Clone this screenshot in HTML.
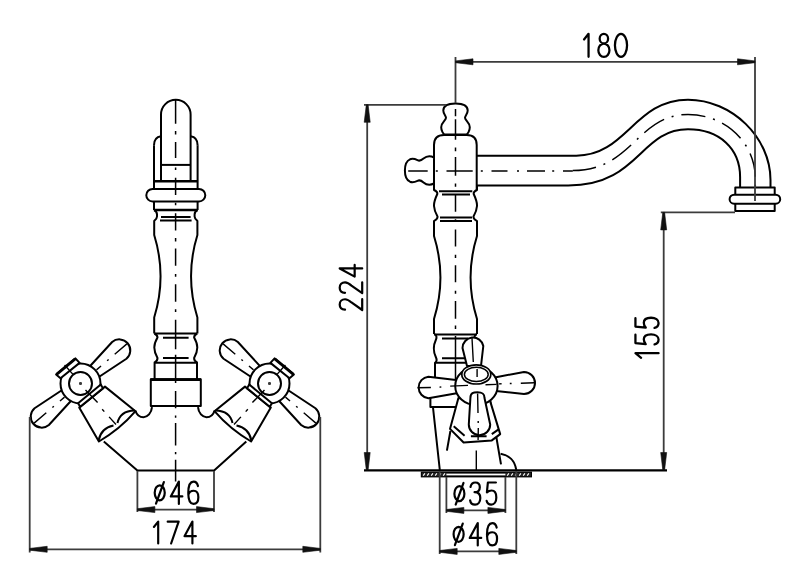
<!DOCTYPE html>
<html><head><meta charset="utf-8"><style>
html,body{margin:0;padding:0;background:#fff;width:800px;height:574px;overflow:hidden}
svg{display:block}
.l{fill:none;stroke:#000;stroke-width:2;stroke-linejoin:round}
.o{fill:#fff;stroke:#000;stroke-width:2;stroke-linejoin:round}
.t{fill:none;stroke:#3c3c3c;stroke-width:1.8}
.c{fill:none;stroke:#000;stroke-width:1.4;stroke-dasharray:22 5 2 5}
.ar{fill:#111;stroke:#111;stroke-width:0.6;stroke-linejoin:round}
.gl{fill:none;stroke:#000;stroke-width:2.2;stroke-linecap:round;stroke-linejoin:round}
.tx{font-family:"Liberation Sans",sans-serif;font-size:35.5px;fill:#000}
</style></head><body>
<svg width="800" height="574" viewBox="0 0 800 574">
<rect width="800" height="574" fill="#fff"/>
<g>
<path class="l" d="M154,145.2 V210"/>
<path class="l" d="M161,136.3 C156.5,137 154,140 154,145.2"/>
<path class="l" d="M154,210 C156.3,211 157,212.5 157,214.5 V216.5 C157,218.5 155.5,219.8 154.2,221 V235 A140,140 0 0 1 154.2,317.5 V333.5"/>
<path class="l" d="M154.4,333.5 C156.5,334.5 157.5,335.5 157.5,337.5 C155.5,341 154.3,344 154.3,347.5 C154.3,351 155.5,354.5 157.5,358 C157.5,360 156.5,361.5 154.6,362.5 V379.3"/>
</g>
<g transform="translate(351.6,0) scale(-1,1)">
<path class="l" d="M154,145.2 V210"/>
<path class="l" d="M161,136.3 C156.5,137 154,140 154,145.2"/>
<path class="l" d="M154,210 C156.3,211 157,212.5 157,214.5 V216.5 C157,218.5 155.5,219.8 154.2,221 V235 A140,140 0 0 1 154.2,317.5 V333.5"/>
<path class="l" d="M154.4,333.5 C156.5,334.5 157.5,335.5 157.5,337.5 C155.5,341 154.3,344 154.3,347.5 C154.3,351 155.5,354.5 157.5,358 C157.5,360 156.5,361.5 154.6,362.5 V379.3"/>
</g>

<path class="l" d="M161,181 V114.6 A14.8,14.8 0 0 1 190.6,114.6 V181"/>
<path class="l" d="M161,164.9 H190.6"/>
<path class="l" style="stroke-width:2.6" d="M154,181.3 H197.6"/>
<rect class="o" x="146.3" y="188.9" width="59" height="12.6" rx="6.3"/>
<path class="l" style="stroke-width:2.6" d="M154,210 H197.6"/>
<path class="l" d="M161,217.1 H190.6 M160,220.4 H191.6"/>
<path class="l" d="M154.4,333.5 H197.2"/>
<path class="l" d="M163,337.8 H188.6 M163,357.9 H188.6"/>
<path class="l" d="M155,362.8 H196.6"/>
<rect class="o" x="150.8" y="379.3" width="50" height="26.7"/>
<path class="l" style="stroke-width:2.6" d="M150.6,379.6 H201"/>

<g><g transform="translate(80.5,383.5) rotate(-40.5)"><path class="o" d="M15,-6.6 L51,-11 A11,11 0 0 1 51,11 L15,6.6 Z"/><path class="l" style="stroke-width:1.4" d="M45,0 H61 M35,0 H37 M21,0 H27"/></g><g transform="translate(80.5,383.5) rotate(139.5)"><path class="o" d="M15,-6.6 L51,-11 A11,11 0 0 1 51,11 L15,6.6 Z"/><path class="l" style="stroke-width:1.4" d="M45,0 H61 M35,0 H37 M21,0 H27"/></g><circle class="o" cx="80.5" cy="383.5" r="20"/><circle class="o" cx="80.5" cy="383.5" r="11.5"/><path class="t" d="M79.0,383.5 h3 M80.5,382.0 v3"/><path class="o" d="M56.1,374.5 L75.4,358.4 L79.6,362.9 L60.5,378.2 Z"/><path class="l" style="stroke-width:2.8" d="M56.6,374.3 L75.2,358.8"/><path class="o" d="M79.2,407.6 L98.9,441.5 Q119.8,429.4 135.5,411.2 L105,386.6 Z"/><path class="o" d="M78.1,403.3 L100.8,384.5 L102.9,388.4 L80.2,406.8 Z"/><path class="l" d="M98.6,440.5 Q101,428 113.5,425.5 M117.5,423 Q120,411 134.5,410.5"/><path class="l" style="stroke-width:1.4" d="M64.6,365 L73,374.4 M85.5,390.1 L97.6,402.6 M102.2,409.3 L104.3,411.6 M109.1,416.9 L116,424.5"/><path class="l" d="M135.5,410.7 C137,416 140,417.2 143.5,417.2 C147.5,417.2 151.5,413 152,407.2"/></g>
<g transform="translate(350.0,0) scale(-1,1)"><g transform="translate(80.5,383.5) rotate(-40.5)"><path class="o" d="M15,-6.6 L51,-11 A11,11 0 0 1 51,11 L15,6.6 Z"/><path class="l" style="stroke-width:1.4" d="M45,0 H61 M35,0 H37 M21,0 H27"/></g><g transform="translate(80.5,383.5) rotate(139.5)"><path class="o" d="M15,-6.6 L51,-11 A11,11 0 0 1 51,11 L15,6.6 Z"/><path class="l" style="stroke-width:1.4" d="M45,0 H61 M35,0 H37 M21,0 H27"/></g><circle class="o" cx="80.5" cy="383.5" r="20"/><circle class="o" cx="80.5" cy="383.5" r="11.5"/><path class="t" d="M79.0,383.5 h3 M80.5,382.0 v3"/><path class="o" d="M56.1,374.5 L75.4,358.4 L79.6,362.9 L60.5,378.2 Z"/><path class="l" style="stroke-width:2.8" d="M56.6,374.3 L75.2,358.8"/><path class="o" d="M79.2,407.6 L98.9,441.5 Q119.8,429.4 135.5,411.2 L105,386.6 Z"/><path class="o" d="M78.1,403.3 L100.8,384.5 L102.9,388.4 L80.2,406.8 Z"/><path class="l" d="M98.6,440.5 Q101,428 113.5,425.5 M117.5,423 Q120,411 134.5,410.5"/><path class="l" style="stroke-width:1.4" d="M64.6,365 L73,374.4 M85.5,390.1 L97.6,402.6 M102.2,409.3 L104.3,411.6 M109.1,416.9 L116,424.5"/><path class="l" d="M135.5,410.7 C137,416 140,417.2 143.5,417.2 C147.5,417.2 151.5,413 152,407.2"/></g>
<path class="l" d="M103.8,441.6 L137.4,470.4 H214.1 L246.3,441.6"/>
<path class="l" style="stroke-width:1.5" d="M175.6,99.9 V123.7 M175.6,142.0 V158.1 M175.6,177.7 V195.0 M175.6,213.2 V230.5 M175.6,248.5 V265.8 M175.6,284.2 V301.7 M175.6,319.7 V349.2 M175.6,354.8 V383.0 M175.6,391.1 V408.2 M175.6,423.0 V445.6 M175.6,459.7 V481.5 M175.6,131.0 V134.6 M175.6,167.5 V169.9 M175.6,202.8 V205.2 M175.6,238.0 V241.4 M175.6,274.0 V276.7 M175.6,309.2 V311.9 M175.6,415.6 V417.8 M175.6,452.0 V454.2"/>
<path class="t" d="M137.4,471 V512 M214,471 V512 M137.4,509.6 H214"/>
<path class="ar" d="M137.4,508.7 L154.9,506.6 L154.9,512.6 L137.4,510.5 Z"/><path class="ar" d="M214.0,510.5 L196.5,512.6 L196.5,506.6 L214.0,508.7 Z"/>
<path class="t" d="M29.7,417 V552.5 M320.3,417 V552.5 M29.7,549.3 H320.3"/>
<path class="ar" d="M29.7,548.4 L47.2,546.3 L47.2,552.3 L29.7,550.2 Z"/><path class="ar" d="M320.3,550.2 L302.8,552.3 L302.8,546.3 L320.3,548.4 Z"/>
<g class="gl" transform="translate(0.00,480.50)"><path transform="translate(153.60,0) scale(0.9959)" d="M6.15,4.8 A5.05,7.55 0 0 1 6.15,19.9 A5.05,7.55 0 0 1 6.15,4.8 Z M10.3,1.6 L2.4,23.3"/><path transform="translate(169.70,0) scale(0.9959)" d="M9.2,23.5 V1.1 L1.1,16 H12.7"/><path transform="translate(187.20,0) scale(0.9959)" d="M10.8,5.6 C10.2,2.7 8.5,1.1 6.4,1.1 C3.1,1.1 1.1,5 1.1,12.6 C1.1,19.5 3.1,23.5 6.3,23.5 C9.3,23.5 11.2,20.8 11.2,16.8 C11.2,12.8 9.3,10.3 6.4,10.3 C3.8,10.3 1.9,11.9 1.1,14.5"/></g>
<g class="gl" transform="translate(0.00,520.50)"><path transform="translate(152.80,0) scale(0.9797)" d="M1.1,6.6 L5.5,1.1 V23.5"/><path transform="translate(166.60,0) scale(0.9797)" d="M1.1,1.2 H12.3 L4.6,23.5"/><path transform="translate(183.40,0) scale(0.9797)" d="M9.2,23.5 V1.1 L1.1,16 H12.7"/></g>
<path class="l" d="M470,155.7 H576.3 C626.3,155.7 634.5,99.7 688,99.7 C731.7,99.7 770.5,137.4 770.5,180 V188"/>
<path class="l" d="M470,185.5 H568.2 C639.1,185.5 639.6,129.3 688,129.3 C719.3,129.3 740.1,148.4 740.1,177 V188"/>
<rect class="o" x="735.3" y="187.5" width="39.4" height="23.6"/>
<rect class="o" x="729.6" y="194.7" width="50.6" height="9" rx="4.5"/>
<path fill="#fff" d="M434,379 V145 Q434,135.1 444,135.1 H466.7 Q476.7,135.1 476.7,145 V379 Z"/>
<path class="l" d="M434,190 V145 Q434,135.1 444,135.1 H466.7 Q476.7,135.1 476.7,145 V190"/>
<path class="o" d="M455.5,103.5 C462,103.5 467.7,105 467.7,110.5 C467.7,114 465,115.5 465,117.8 C465,120.5 469.8,122.5 469.8,127.2 C469.8,131 467.5,134 466.5,134.6 H444.5 C443.5,134 441.2,131 441.2,127.2 C441.2,122.5 446,120.5 446,117.8 C446,115.5 443.3,114 443.3,110.5 C443.3,105 449,103.5 455.5,103.5 Z"/>
<path class="o" d="M434,157.5 C430,155.5 426.5,156 423.5,158.6 C421.5,160.4 419.5,161.2 417.5,160.2 C415,159 412.5,158.3 410,159.3 C406.5,160.8 404.9,165 404.9,170.5 C404.9,176 406.5,180.2 410,181.7 C412.5,182.7 415,182 417.5,180.8 C419.5,179.8 421.5,180.6 423.5,182.4 C426.5,185 430,185.5 434,183.5 Z"/>
<path class="l" style="stroke-width:1.5" d="M408.2,171 H427.7 M446.5,171 H472.7 M491.5,171 H507.5 M527.0,171 H545.0 M563.0,171 H572.8 M435.8,171 H437.8 M480.8,171 H482.8 M517.0,171 H519.0 M552.2,171 H554.2"/>
<path class="c" style="stroke-width:1.5;stroke-dasharray:24 8 2 8;stroke-dashoffset:0.5" d="M572.7,170.6 C632.7,170.6 637,114.5 688,114.5 C725.5,114.5 755.3,142.9 755.3,178.5 V188"/>
<g>
<path class="l" d="M434,186 V190 C436.5,191 437.5,192.5 437.3,194 C435,199 433.8,203 434,206 C434.2,209.5 435.5,213 437.5,216.5 C437.8,218 436,219.8 434,221 V236 A140,140 0 0 1 434,319 V334"/>
<path class="l" d="M434.3,334 C437,335.5 437,337.5 435.8,340 C433,346 433,351 435.8,357 C437,359.5 437,361.5 435,362.8 V379"/>
</g>
<g transform="translate(911,0) scale(-1,1)">
<path class="l" d="M434,186 V190 C436.5,191 437.5,192.5 437.3,194 C435,199 433.8,203 434,206 C434.2,209.5 435.5,213 437.5,216.5 C437.8,218 436,219.8 434,221 V236 A140,140 0 0 1 434,319 V334"/>
<path class="l" d="M434.3,334 C437,335.5 437,337.5 435.8,340 C433,346 433,351 435.8,357 C437,359.5 437,361.5 435,362.8 V379"/>
</g>
<path class="l" d="M439,191.3 H472.3 M442,194.4 H470 M440,217.4 H472 M440,220.9 H472 M434,334.4 H477 M442,338.4 H468 M442,358.3 H468 M435,362.8 H476"/>
<path class="l" style="stroke-width:1.5" d="M455.5,108.9 V116.2 M455.5,119.3 V139.7 M455.5,157.0 V175.7 M455.5,194.0 V211.7 M455.5,229.6 V246.4 M455.5,265.2 V282.2 M455.5,301.1 V318.8 M455.5,336.0 V380.0 M455.5,147.6 V151.2 M455.5,183.5 V186.7 M455.5,219.2 V221.3 M455.5,254.7 V257.9 M455.5,290.7 V293.8 M455.5,325.5 V329.1"/>
<path class="l" d="M433,407.5 L439.8,470 M450.4,431 L446.9,450.6 M490,400 L501,464.4"/>
<path class="l" d="M500.6,453.7 C509,455 515,461 516.3,470"/>
<path fill="#fff" d="M430.4,392 V407 H456 V392 Z"/>
<path class="l" d="M430.4,392 V407 H457"/>
<path class="o" d="M458.4,398 L450,428.9 L463.6,442.5 L491.8,440.4 L500.2,434.1 L489.7,399.6 Z"/>
<path class="l" d="M453.7,426.3 L464.6,435.7 M491.8,434.1 L498.6,429.4 M470.9,436.2 H486.6"/>
<path class="o" d="M456,379.9 L428.4,376.7 A10.8,10.8 0 0 0 428.4,398.2 L458.1,392.9 Z"/>
<path class="o" d="M496,377.2 L524,372 A11,11 0 0 1 524,394 L496,391 Z"/>
<path class="o" d="M467,366 L462.5,348 A10.5,10.5 0 0 1 483.3,346 L481,366 Z"/>
<ellipse class="o" cx="476.4" cy="386" rx="21.2" ry="19"/>
<ellipse class="o" style="stroke-width:1.7" cx="476.3" cy="374.4" rx="14.5" ry="9.6"/>
<ellipse class="l" style="stroke-width:1.5" cx="476.3" cy="374.4" rx="11.9" ry="7.1"/>
<path class="o" d="M470.4,398 C470.4,392.5 473.5,392.3 477.4,392.3 C481.5,392.3 484.5,393 484.5,398 L490.2,424.5 A10.7,10.7 0 0 1 468.8,424.5 Z"/>
<path class="l" style="stroke-width:1.4" d="M417.5,387.7 L430.9,387.5 M439.5,387.1 L441.3,387 M450.2,386.1 L468,385.4 M485.5,384.7 L496.5,384.4 M498.8,383.9 L501.6,383.8 M509.8,383.5 L511.6,383.5 M520.8,383.3 L534.3,382.8"/>
<path class="l" style="stroke-width:1.4" d="M472,338 L473.3,362 M477.1,369 V377 M477.6,393.4 L478,413 M478.2,421 V423 M478.3,428 L478.1,440 M476.3,450.6 V470"/>
<path class="l" style="stroke-width:2.4" d="M364,470.4 H667"/>
<rect x="421.8" y="472.6" width="109.2" height="3.8" fill="#fff" stroke="#000" stroke-width="2"/>
<rect x="421.8" y="472.6" width="24.6" height="3.8" fill="#222"/>
<rect x="505.4" y="472.6" width="25.6" height="3.8" fill="#222"/>
<path d="M423.2,475.6 L424.9,473.4 M427.2,475.6 L428.9,473.4 M431.2,475.6 L432.9,473.4 M435.2,475.6 L436.9,473.4 M439.2,475.6 L440.9,473.4 M443.2,475.6 L444.9,473.4 M507.2,475.6 L508.9,473.4 M511.2,475.6 L512.9,473.4 M515.2,475.6 L516.9,473.4 M519.2,475.6 L520.9,473.4 M523.2,475.6 L524.9,473.4 M527.2,475.6 L528.9,473.4" stroke="#fff" stroke-width="1.1" fill="none"/>
<path class="t" d="M455.5,57 V103 M755,57 V201 M455.5,61.8 H755"/>
<path class="ar" d="M455.5,60.9 L473.0,58.8 L473.0,64.8 L455.5,62.7 Z"/><path class="ar" d="M755.0,62.7 L737.5,64.8 L737.5,58.8 L755.0,60.9 Z"/>
<g class="gl" transform="translate(0.00,32.70)"><path transform="translate(582.90,0) scale(1.0285)" d="M1.1,6.6 L5.5,1.1 V23.5"/><path transform="translate(597.20,0) scale(1.0285)" d="M6.5,1.1 A4.1,4.7 0 0 1 6.5,10.5 A4.1,4.7 0 0 1 6.5,1.1 Z M6.5,10.5 A5.4,6.5 0 0 1 6.5,23.5 A5.4,6.5 0 0 1 6.5,10.5 Z"/><path transform="translate(613.80,0) scale(1.0285)" d="M7,1.1 A5.9,11.2 0 0 1 7,23.5 A5.9,11.2 0 0 1 7,1.1 Z"/></g>
<path class="t" d="M364,104.8 H446 M367.2,104.8 V470"/>
<path class="ar" d="M368.1,104.8 L370.2,122.3 L364.2,122.3 L366.3,104.8 Z"/><path class="ar" d="M366.3,470.0 L364.2,452.5 L370.2,452.5 L368.1,470.0 Z"/>
<g class="gl" transform="translate(338.60,311.10) rotate(-90)"><path transform="translate(0.00,0) scale(1.0041)" d="M1.4,6.4 C1.6,3.1 3.6,1.1 6.5,1.1 C9.6,1.1 11.8,3.2 11.8,6.4 C11.8,8.8 10.6,10.6 8.6,12.8 L1.1,23.5 H11.9"/><path transform="translate(16.90,0) scale(1.0041)" d="M1.4,6.4 C1.6,3.1 3.6,1.1 6.5,1.1 C9.6,1.1 11.8,3.2 11.8,6.4 C11.8,8.8 10.6,10.6 8.6,12.8 L1.1,23.5 H11.9"/><path transform="translate(33.40,0) scale(1.0041)" d="M9.2,23.5 V1.1 L1.1,16 H12.7"/></g>
<path class="t" d="M660.8,212.4 H735 M663.7,212.4 V470"/>
<path class="ar" d="M664.6,212.4 L666.7,229.9 L660.7,229.9 L662.8,212.4 Z"/><path class="ar" d="M662.8,470.0 L660.7,452.5 L666.7,452.5 L664.6,470.0 Z"/>
<g class="gl" transform="translate(634.30,358.90) rotate(-90)"><path transform="translate(0.00,0) scale(1.0325)" d="M1.1,6.6 L5.5,1.1 V23.5"/><path transform="translate(13.30,0) scale(1.0325)" d="M10.5,1.1 H2.4 L1.4,11.1 C2.8,9.8 4.4,9.2 6.1,9.2 C9.1,9.2 10.9,11.9 10.9,16.2 C10.9,20.6 8.8,23.5 5.8,23.5 C3.4,23.5 1.7,22.1 1.1,19.6"/><path transform="translate(29.90,0) scale(1.0325)" d="M10.5,1.1 H2.4 L1.4,11.1 C2.8,9.8 4.4,9.2 6.1,9.2 C9.1,9.2 10.9,11.9 10.9,16.2 C10.9,20.6 8.8,23.5 5.8,23.5 C3.4,23.5 1.7,22.1 1.1,19.6"/></g>
<path class="t" d="M446.4,477 V513 M505.4,477 V513 M446.4,510.4 H505.4"/>
<path class="ar" d="M446.4,509.5 L463.9,507.4 L463.9,513.4 L446.4,511.3 Z"/><path class="ar" d="M505.4,511.3 L487.9,513.4 L487.9,507.4 L505.4,509.5 Z"/>
<g class="gl" transform="translate(0.00,481.40)"><path transform="translate(453.30,0) scale(0.9919)" d="M6.15,4.8 A5.05,7.55 0 0 1 6.15,19.9 A5.05,7.55 0 0 1 6.15,4.8 Z M10.3,1.6 L2.4,23.3"/><path transform="translate(469.00,0) scale(0.9919)" d="M1.5,5.6 C2.1,2.8 3.9,1.1 6.3,1.1 C9.1,1.1 10.9,3 10.9,5.9 C10.9,8.8 8.9,10.9 5.6,10.9 C9.3,10.9 11.4,13.2 11.4,16.8 C11.4,20.8 9.2,23.5 6.1,23.5 C3.3,23.5 1.5,21.9 1.1,19"/><path transform="translate(485.50,0) scale(0.9919)" d="M10.5,1.1 H2.4 L1.4,11.1 C2.8,9.8 4.4,9.2 6.1,9.2 C9.1,9.2 10.9,11.9 10.9,16.2 C10.9,20.6 8.8,23.5 5.8,23.5 C3.4,23.5 1.7,22.1 1.1,19.6"/></g>
<path class="t" d="M439.7,471 V554 M516.3,471 V554 M439.7,551.4 H516.3"/>
<path class="ar" d="M439.7,550.5 L457.2,548.4 L457.2,554.4 L439.7,552.3 Z"/><path class="ar" d="M516.3,552.3 L498.8,554.4 L498.8,548.4 L516.3,550.5 Z"/>
<g class="gl" transform="translate(0.00,522.00)"><path transform="translate(452.50,0) scale(0.9959)" d="M6.15,4.8 A5.05,7.55 0 0 1 6.15,19.9 A5.05,7.55 0 0 1 6.15,4.8 Z M10.3,1.6 L2.4,23.3"/><path transform="translate(468.60,0) scale(0.9959)" d="M9.2,23.5 V1.1 L1.1,16 H12.7"/><path transform="translate(485.90,0) scale(0.9959)" d="M10.8,5.6 C10.2,2.7 8.5,1.1 6.4,1.1 C3.1,1.1 1.1,5 1.1,12.6 C1.1,19.5 3.1,23.5 6.3,23.5 C9.3,23.5 11.2,20.8 11.2,16.8 C11.2,12.8 9.3,10.3 6.4,10.3 C3.8,10.3 1.9,11.9 1.1,14.5"/></g>
</svg></body></html>
